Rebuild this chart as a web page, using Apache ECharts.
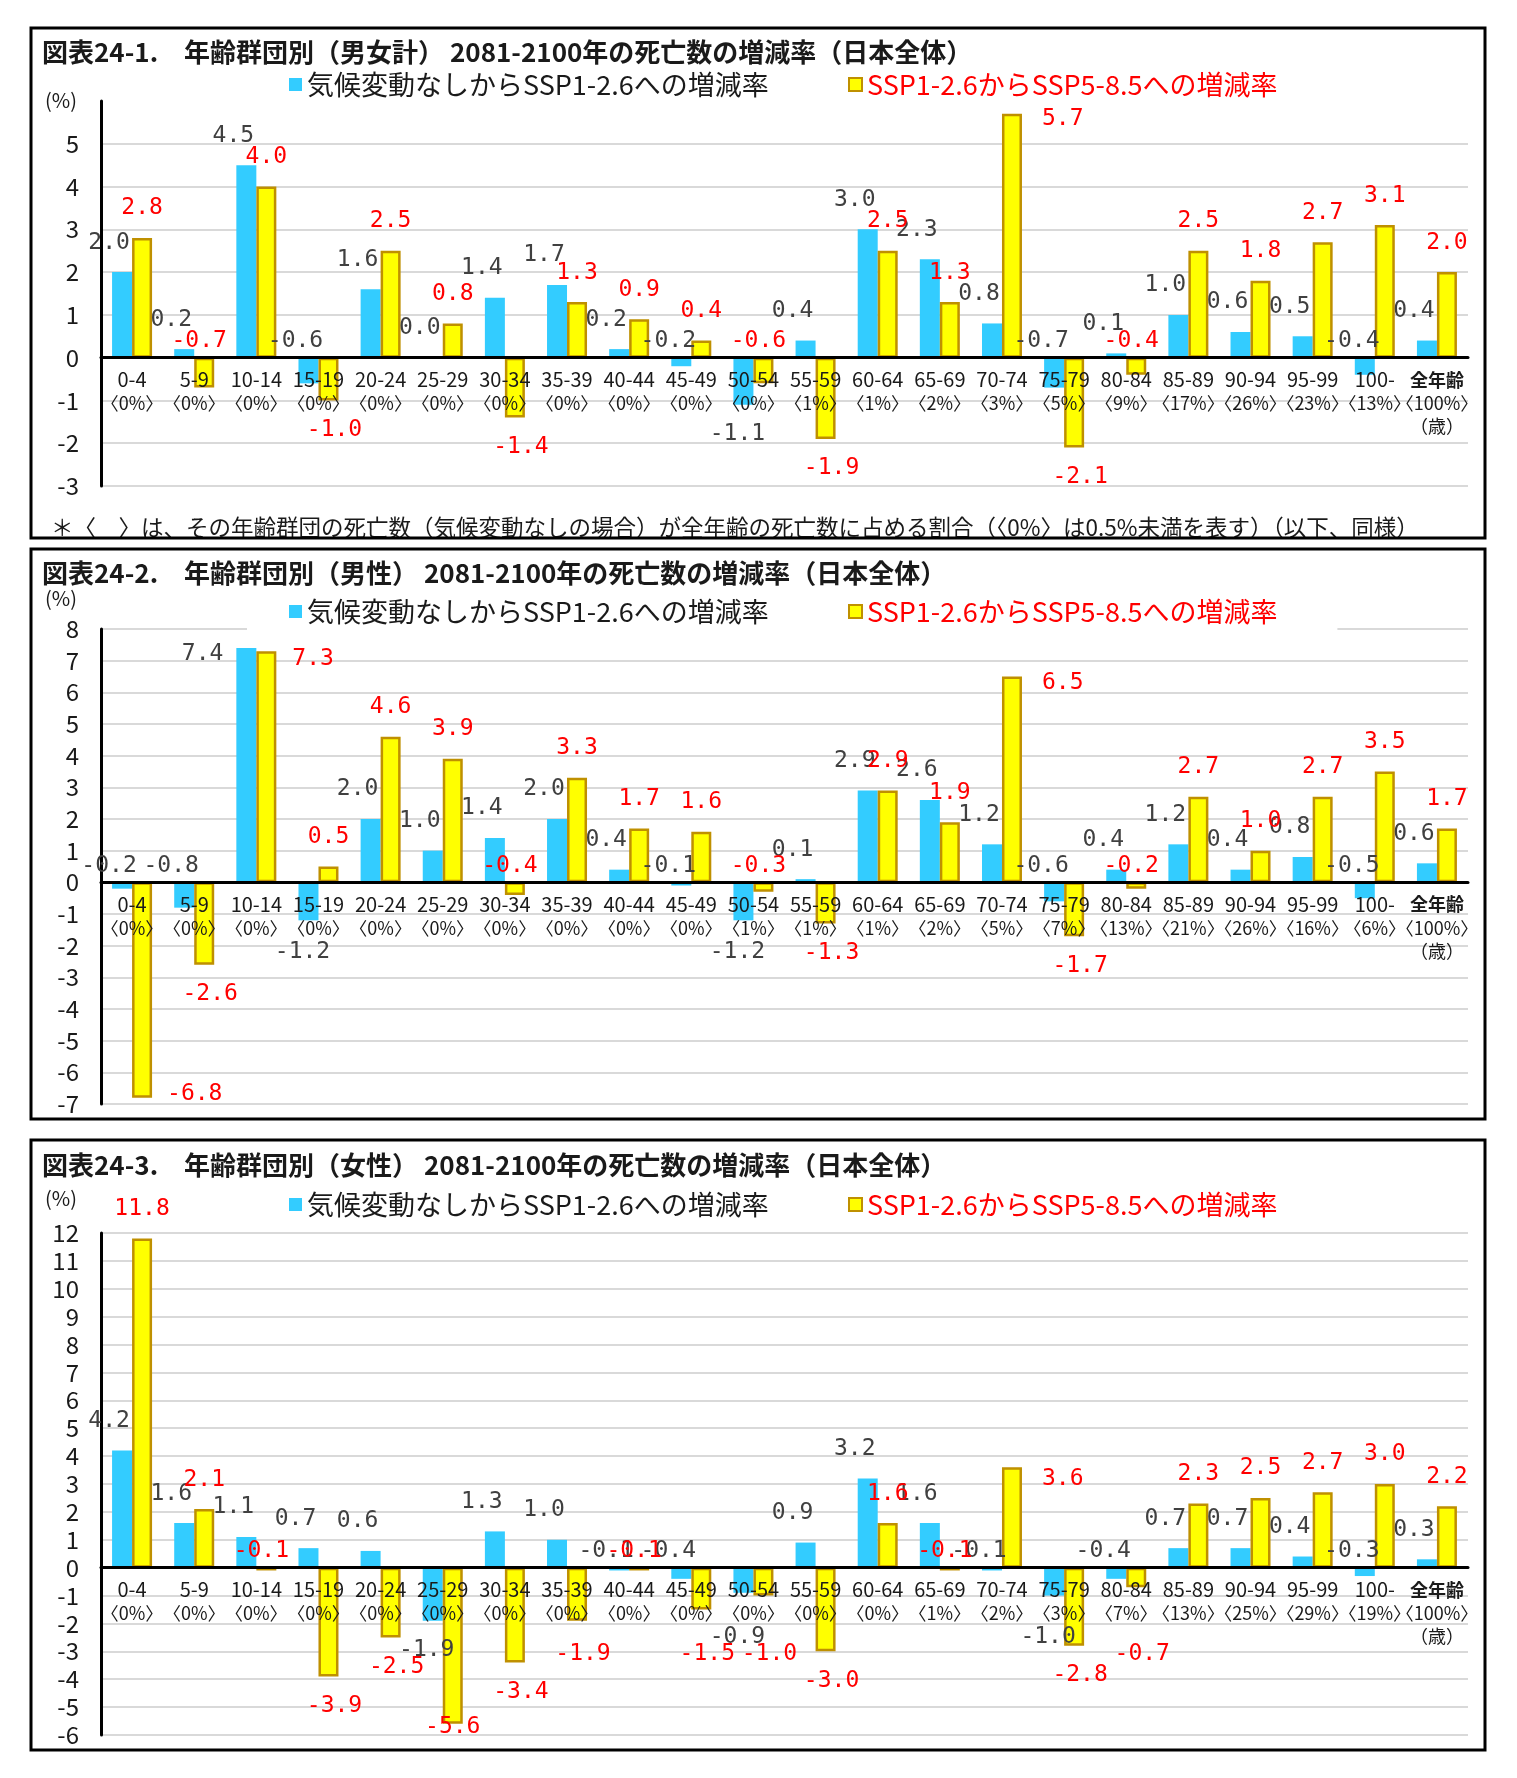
<!DOCTYPE html>
<html><head><meta charset="utf-8">
<script src="https://cdn.jsdelivr.net/npm/echarts@6/dist/echarts.min.js"></script>
<style>html,body{margin:0;padding:0;background:#fff}#c{width:1517px;height:1778px}</style>
</head><body><div id="c"></div>
<script>
// ---------- data ----------
const categories = ['0-4','5-9','10-14','15-19','20-24','25-29','30-34','35-39','40-44','45-49','50-54','55-59','60-64','65-69','70-74','75-79','80-84','85-89','90-94','95-99','100-','全年齢'];

const seriesNameA = '気候変動なしからSSP1-2.6への増減率';
const seriesNameB = 'SSP1-2.6からSSP5-8.5への増減率';

// 男女計
const shareTotal  = ['0%','0%','0%','0%','0%','0%','0%','0%','0%','0%','0%','1%','1%','2%','3%','5%','9%','17%','26%','23%','13%','100%'];
const totalA = [2.0,0.2,4.5,-0.6,1.6,0.0,1.4,1.7,0.2,-0.2,-1.1,0.4,3.0,2.3,0.8,-0.7,0.1,1.0,0.6,0.5,-0.4,0.4];
const totalB = [2.8,-0.7,4.0,-1.0,2.5,0.8,-1.4,1.3,0.9,0.4,-0.6,-1.9,2.5,1.3,5.7,-2.1,-0.4,2.5,1.8,2.7,3.1,2.0];

// 男性
const shareMale = ['0%','0%','0%','0%','0%','0%','0%','0%','0%','0%','1%','1%','1%','2%','5%','7%','13%','21%','26%','16%','6%','100%'];
const maleA = [-0.2,-0.8,7.4,-1.2,2.0,1.0,1.4,2.0,0.4,-0.1,-1.2,0.1,2.9,2.6,1.2,-0.6,0.4,1.2,0.4,0.8,-0.5,0.6];
const maleB = [-6.8,-2.6,7.3,0.5,4.6,3.9,-0.4,3.3,1.7,1.6,-0.3,-1.3,2.9,1.9,6.5,-1.7,-0.2,2.7,1.0,2.7,3.5,1.7];

// 女性
const shareFemale = ['0%','0%','0%','0%','0%','0%','0%','0%','0%','0%','0%','0%','0%','1%','2%','3%','7%','13%','25%','29%','19%','100%'];
const femaleA = [4.2,1.6,1.1,0.7,0.6,-1.9,1.3,1.0,-0.1,-0.4,-0.9,0.9,3.2,1.6,-0.1,-1.0,-0.4,0.7,0.7,0.4,-0.3,0.3];
const femaleB = [11.8,2.1,-0.1,-3.9,-2.5,-5.6,-3.4,-1.9,-0.1,-1.5,-1.0,-3.0,1.6,-0.1,3.6,-2.8,-0.7,2.3,2.5,2.7,3.0,2.2];

const titles = [
  '図表24-1.\u3000年齢群団別（男女計） 2081-2100年の死亡数の増減率（日本全体）',
  '図表24-2.\u3000年齢群団別（男性） 2081-2100年の死亡数の増減率（日本全体）',
  '図表24-3.\u3000年齢群団別（女性） 2081-2100年の死亡数の増減率（日本全体）'
];
const footnote = '＊〈\u3000〉は、その年齢群団の死亡数（気候変動なしの場合）が全年齢の死亡数に占める割合（〈0%〉は0.5%未満を表す）（以下、同様）';

// ---------- styles / layout ----------
const FONT = '"Noto Sans CJK JP", sans-serif';
const MONO = '"DejaVu Sans Mono", monospace';
const BLUE = '#33ccff', YELLOW = '#ffff00', GOLD = '#bf9000';
const GRID_LEFT = 101, GRID_WIDTH = 1367;

const panels = [
  {share: shareTotal, a: totalA, b: totalB, top: 101, height: 385, min: -3, max: 6, hideMax: true, thresh: -0.85,
   pushA: 53, pushB: 53,
   boxTop: 28, boxH: 510, titleY: 52, legendY: 85, pctY: 100,
   sideB: {'70-74': {position: ['100%', 0], offset: [20, -6]}}, sideA: {}},
  {share: shareMale, a: maleA, b: maleB, top: 629, height: 475, min: -7, max: 8, hideMax: false, thresh: -0.85,
   pushA: 53, pushB: 53,
   boxTop: 549, boxH: 570, titleY: 573, legendY: 612, pctY: 598,
   sideB: {'10-14': {position: ['100%', 0], offset: [16, -4]}, '70-74': {position: ['100%', 0], offset: [20, -5]},
           '0-4': {position: ['100%', '100%'], offset: [15, -15]}},
   sideA: {'10-14': {position: [0, 0], align: 'right', offset: [-13, -5]}}},
  {share: shareFemale, a: femaleA, b: femaleB, top: 1233, height: 502, min: -6, max: 12, hideMax: false, thresh: -0.65,
   pushA: 53, pushB: 70,
   boxTop: 1140, boxH: 610, titleY: 1165, legendY: 1205, pctY: 1198,
   sideB: {'70-74': {position: ['100%', 0], offset: [20, 0]}, '25-29': {position: 'insideBottom', offset: [0, 20]}}, sideA: {}}
];

// label placement: above the bar for positives, above the zero line for small negatives,
// below the bar end (but clear of the category labels) for larger negatives
function buildData(values, kind, p, side) {
  const unit = p.height / (p.max - p.min);
  const push = kind === 'a' ? p.pushA : p.pushB;
  return values.map((v, i) => {
    const cat = categories[i];
    let label;
    if (side[cat]) label = side[cat];
    else if (v >= 0) label = {position: 'top', offset: [kind === 'a' ? -13 : 0, -13]};
    else if (v > p.thresh) label = {position: 'top', offset: [kind === 'a' ? -13 : -5, 0]};
    else label = {position: 'bottom', offset: [kind === 'a' ? -6 : 6, Math.max(13, push - Math.abs(v) * unit)]};
    return {value: v, label: label};
  });
}
const fmt = p => Number(p.value).toFixed(1);

// measure legend text to place the second item like the original
const mctx = document.createElement('canvas').getContext('2d');
const LEG_FS = 27;
mctx.font = LEG_FS + 'px "Noto Sans CJK JP"';
const w1 = mctx.measureText(seriesNameA).width;
const legendGap = Math.max(20, 848 - (289 + 13 + 5 + w1));

const grids = [], xAxes = [], yAxes = [], series = [], legends = [], graphics = [];
panels.forEach((p, k) => {
  // the category axis sits on the zero line (as in the original): shift it up from the grid bottom
  const zeroShift = -p.height * (0 - p.min) / (p.max - p.min);
  grids.push({left: GRID_LEFT, width: GRID_WIDTH, top: p.top, height: p.height, containLabel: false, outerBoundsMode: 'none'});
  xAxes.push({
    type: 'category', gridIndex: k, data: categories, z: 10, position: 'bottom', offset: zeroShift,
    axisLine: {onZero: false, lineStyle: {color: '#000', width: 3}},
    axisTick: {show: false},
    splitLine: {show: false},
    axisLabel: {
      interval: 0, margin: 10, color: '#1a1a1a', fontFamily: FONT,
      formatter: (val, i) => val === '全年齢'
        ? '{c|全年齢}\n{b|〈' + p.share[i] + '〉}\n{b|（歳）}'
        : '{a|' + val + '}\n{b|〈' + p.share[i] + '〉}',
      rich: {
        a: {fontSize: 20, lineHeight: 24, fontFamily: FONT, color: '#1a1a1a'},
        b: {fontSize: 18, lineHeight: 23, fontFamily: FONT, color: '#1a1a1a'},
        c: {fontSize: 18, lineHeight: 24, fontFamily: FONT, color: '#1a1a1a', fontWeight: 'bold'}
      }
    }
  });
  yAxes.push({
    type: 'value', gridIndex: k, min: p.min, max: p.max, interval: 1,
    axisLine: {show: true, onZero: false, lineStyle: {color: '#000', width: 3}},
    axisTick: {show: false},
    axisLabel: {fontSize: 24, color: '#1a1a1a', margin: 22, fontFamily: FONT, showMaxLabel: !p.hideMax},
    splitLine: {show: true, showMaxLine: !p.hideMax, lineStyle: {color: '#d9d9d9', width: 2}}
  });
  series.push({
    name: seriesNameA, type: 'bar', xAxisIndex: k, yAxisIndex: k, barWidth: 20, barGap: '0%',
    itemStyle: {color: BLUE},
    label: {show: true, fontFamily: MONO, fontSize: 23, color: '#404040', formatter: fmt},
    data: buildData(p.a, 'a', p, p.sideA)
  });
  series.push({
    name: seriesNameB, type: 'bar', xAxisIndex: k, yAxisIndex: k, barWidth: 20, barGap: '0%',
    itemStyle: {color: YELLOW, borderColor: GOLD, borderWidth: 2.5},
    label: {show: true, fontFamily: MONO, fontSize: 23, color: '#ff0000', formatter: fmt},
    data: buildData(p.b, 'b', p, p.sideB)
  });
  legends.push({
    left: 247, top: p.legendY - 18, padding: [4, 60, 8, 42], backgroundColor: '#fff',
    itemWidth: 13, itemHeight: 13, itemGap: legendGap, icon: 'rect', selectedMode: false,
    textStyle: {fontSize: LEG_FS, fontFamily: FONT},
    data: [{name: seriesNameA, textStyle: {color: '#1a1a1a'}}, {name: seriesNameB, textStyle: {color: '#ff0000'}}]
  });
  graphics.push({type: 'rect', shape: {x: 31, y: p.boxTop, width: 1454, height: p.boxH},
    style: {fill: 'none', stroke: '#000', lineWidth: 3}, z: 100});
  graphics.push({type: 'text', x: 42, y: p.titleY,
    style: {text: titles[k], font: 'bold 26px "Noto Sans CJK JP"', fill: '#1a1a1a', verticalAlign: 'middle'}});
  graphics.push({type: 'text', x: 61, y: p.pctY,
    style: {text: '(%)', font: '20px "Noto Sans CJK JP"', fill: '#1a1a1a', align: 'center', verticalAlign: 'middle'}});
});
graphics.push({type: 'text', x: 51, y: 527,
  style: {text: footnote, font: '22.5px "Noto Sans CJK JP"', fill: '#1a1a1a', verticalAlign: 'middle'}});

const chart = echarts.init(document.getElementById('c'));
chart.setOption({
  animation: false,
  backgroundColor: '#fff',
  grid: grids, xAxis: xAxes, yAxis: yAxes, series: series, legend: legends,
  graphic: graphics
});
</script>
</body></html>
